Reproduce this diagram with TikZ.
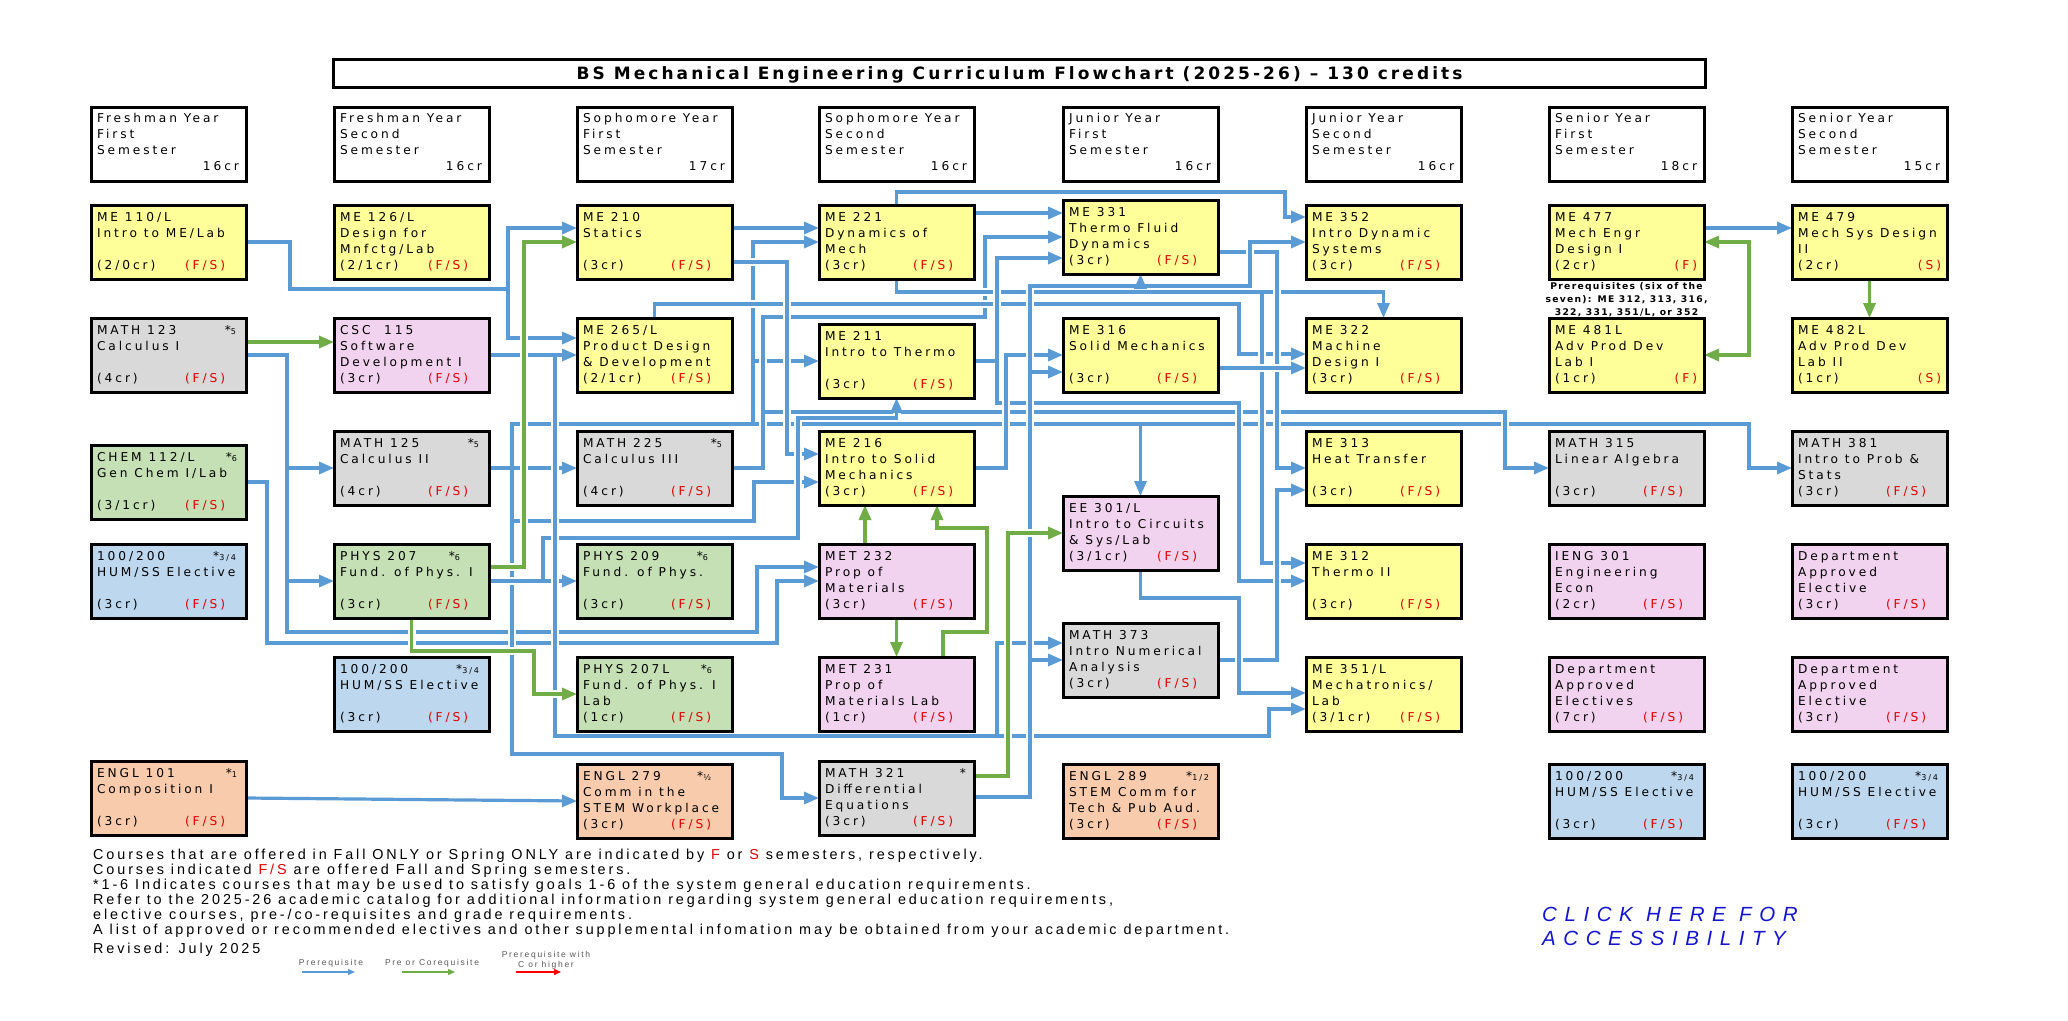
\documentclass[tikz,border=0pt]{standalone}
\usepackage{fontspec}
\usetikzlibrary{arrows.meta}
\newfontfamily\bxf[LetterSpace=24]{DejaVu Sans}
\newfontfamily\titlef[LetterSpace=18]{DejaVu Sans}
\newfontfamily\notef[LetterSpace=14]{DejaVu Sans}
\newfontfamily\ftf[LetterSpace=20]{Liberation Sans}
\newfontfamily\clickf[LetterSpace=37]{Liberation Sans}
\definecolor{fillY}{HTML}{FFFF99}
\definecolor{fillG}{HTML}{D9D9D9}
\definecolor{fillP}{HTML}{F2D3EF}
\definecolor{fillN}{HTML}{C5E0B4}
\definecolor{fillB}{HTML}{BDD7EE}
\definecolor{fillO}{HTML}{F8CBAD}
\definecolor{lnB}{HTML}{5B9BD5}
\definecolor{lnG}{HTML}{70AD47}
\definecolor{redT}{HTML}{E00000}
\definecolor{clickB}{HTML}{1414D2}
\pgfdeclarelayer{bg}
\pgfsetlayers{bg,main}
\tikzset{
 cbox/.style={draw=black, line width=3pt, minimum width=155pt, minimum height=74pt, inner sep=0pt, outer sep=0pt},
 ctxt/.style={anchor=base west, inner sep=0pt, outer sep=0pt, font={\bxf\fontsize{12.2}{14}\selectfont}},
 semtxt/.style={ctxt, text=redT},
 halo/.style={draw=white, line width=8pt},
 pq/.style={draw=lnB, line width=3.2pt, -{Triangle[length=15pt,width=12pt]}},
 cq/.style={draw=lnG, line width=3.2pt, -{Triangle[length=15pt,width=12pt]}},
 cqq/.style={draw=lnG, line width=3.2pt, {Triangle[length=15pt,width=12pt]}-{Triangle[length=15pt,width=12pt]}},
 ftxt/.style={anchor=base west, inner sep=0pt, font={\ftf\fontsize{14.4}{16}\selectfont}},
 notetxt/.style={anchor=base, inner sep=0pt, font={\notef\bfseries\fontsize{9.2}{11}\selectfont}},
 lgtxt/.style={anchor=base, inner sep=0pt, text=black!65, font={\ftf\fontsize{8.5}{9}\selectfont}},
}
% course box: name, left, top, fill, l1, l2, l3, credit line, semester
\newcommand\cb[9]{%
 \node[cbox,fill=#4] (#1) at (#2+77.5,#3+37) {};
 \node[ctxt] (#1-1) at (#2+6,#3+16) {#5};
 \node[ctxt] (#1-2) at (#2+6,#3+32) {#6};
 \node[ctxt] (#1-3) at (#2+6,#3+48) {#7};
 \node[ctxt] (#1-4) at (#2+6,#3+64) {#8};
 \node[semtxt] (#1-s) at (#2+94,#3+64) {#9};}
% header box: name, left, l1, l2, credits
\newcommand\hb[5]{%
 \node[cbox,fill=white] (#1) at (#2+77.5,144) {};
 \node[ctxt] (#1-1) at (#2+6,122) {#3};
 \node[ctxt] (#1-2) at (#2+6,138) {#4};
 \node[ctxt] (#1-3) at (#2+6,154) {Semester};
 \node[ctxt,anchor=base east] (#1-4) at (#2+148,170) {#5};}
\newcommand\cst[4]{\node[ctxt,anchor=base east] (#1-st) at (#2,#3) {#4};}
\newcommand\sm[1]{{\fontsize{8}{8}\selectfont #1}}
\newcommand\dbl[2]{#1{halo}#1{#2}}
% connectors
\newcommand\cnA[1]{%
 \draw[#1] (ME110.east) -- (290,242) -- (290,289) -- (508,289) -- (508,228) -- (ME210.west |- 0,228);
 \draw[#1] (ME110.east) -- (290,242) -- (290,289) -- (508,289) -- (508,338) -- (ME265.west |- 0,338);}
\newcommand\cnB[1]{%
 \draw[#1] (MATH123.east) -- (287,355) -- (287,468) -- (MATH125.west);
 \draw[#1] (MATH123.east) -- (287,355) -- (287,581) -- (PHYS207.west);
 \draw[#1] (MATH123.east) -- (287,355) -- (287,632) -- (757,632) -- (757,567) -- (MET232.west |- 0,567);}
\newcommand\cnC[1]{%
 \draw[#1] (CHEM112.east) -- (267,482) -- (267,643) -- (777,643) -- (777,581) -- (MET232.west);}
\newcommand\cnD[1]{%
 \draw[#1] (CSC115.east) -- (ME265.west);
 \draw[#1] (CSC115.east) -- (555,355) -- (555,736) -- (997,736) -- (997,643) -- (MATH373.west |- 0,643);
 \draw[#1] (CSC115.east) -- (555,355) -- (555,736) -- (1269,736) -- (1269,709) -- (ME351.west |- 0,709);}
\newcommand\cnE[1]{%
 \draw[#1] (MATH125.east) -- (MATH225.west);
 \draw[#1] (MATH125.east) -- (512,468) -- (512,424) -- (753,424) -- (753,242) -- (ME221.west |- 0,242);
 \draw[#1] (MATH125.east) -- (512,468) -- (512,424) -- (753,424) -- (753,361) -- (ME211.west);
 \draw[#1] (MATH125.east) -- (512,468) -- (512,424) -- (1140.5,424) -- (EE301.north);
 \draw[#1] (MATH125.east) -- (512,468) -- (512,424) -- (1749,424) -- (1749,468) -- (MATH381.west);
 \draw[#1] (MATH125.east) -- (512,468) -- (512,521) -- (754,521) -- (754,482) -- (ME216.west |- 0,482);
 \draw[#1] (MATH125.east) -- (512,468) -- (512,754) -- (782,754) -- (782,798) -- (MATH321.west);}
\newcommand\cnF[1]{%
 \draw[#1] (PHYS207.east) -- (PHYS209.west);
 \draw[#1] (PHYS207.east) -- (543,581) -- (543,538) -- (798,538) -- (798,418) -- (896.5,418) -- (ME211.south);}
\newcommand\cnG[1]{%
 \draw[#1] (ME210.east |- 0,228) -- (ME221.west |- 0,228);
 \draw[#1] (ME210.east |- 0,262) -- (787,262) -- (787,454) -- (ME216.west |- 0,454);}
\newcommand\cnH[1]{%
 \draw[#1] (ME265.north) -- (654.5,304) -- (1239,304) -- (1239,354) -- (ME322.west |- 0,354);}
\newcommand\cnI[1]{%
 \draw[#1] (MATH225.east) -- (763,468) -- (763,317) -- (985,317) -- (985,237) -- (ME331.west);
 \draw[#1] (MATH225.east) -- (763,468) -- (763,412) -- (1505,412) -- (1505,468) -- (MATH315.west);}
\newcommand\cnJ[1]{%
 \draw[#1] (ME221.north) -- (896.5,192) -- (1285,192) -- (1285,217) -- (ME352.west |- 0,217);
 \draw[#1] (ME221.east |- 0,213) -- (ME331.west |- 0,213);
 \draw[#1] (ME221.south) -- (896.5,292) -- (1383.5,292) -- (ME322.north);
 \draw[#1] (ME221.south) -- (896.5,292) -- (1262,292) -- (1262,563) -- (ME312.west |- 0,563);}
\newcommand\cnK[1]{%
 \draw[#1] (ME211.east) -- (997,361) -- (997,258) -- (ME331.west |- 0,258);
 \draw[#1] (ME211.east) -- (997,361) -- (997,403) -- (1239,403) -- (1239,581) -- (ME312.west);}
\newcommand\cnL[1]{%
 \draw[#1] (ME216.east) -- (1006,468) -- (1006,355) -- (ME316.west);}
\newcommand\cnM[1]{%
 \draw[#1] (MATH321.east |- 0,797) -- (1030,797) -- (1030,660) -- (MATH373.west);
 \draw[#1] (MATH321.east |- 0,797) -- (1030,797) -- (1030,372) -- (ME316.west |- 0,372);
 \draw[#1] (MATH321.east |- 0,797) -- (1030,797) -- (1030,286) -- (1140.5,286) -- (ME331.south);
 \draw[#1] (MATH321.east |- 0,797) -- (1030,797) -- (1030,286) -- (1250,286) -- (1250,242) -- (ME352.west);}
\newcommand\cnN[1]{%
 \draw[#1] (ME331.east |- 0,252) -- (1277,252) -- (1277,468) -- (ME313.west);}
\newcommand\cnO[1]{%
 \draw[#1] (ME316.east |- 0,368) -- (ME322.west |- 0,368);}
\newcommand\cnP[1]{%
 \draw[#1] (MATH373.east) -- (1277,660) -- (1277,490) -- (ME313.west |- 0,490);}
\newcommand\cnQ[1]{%
 \draw[#1] (EE301.south) -- (1140.5,598) -- (1239,598) -- (1239,693) -- (ME351.west |- 0,693);}
\newcommand\cnR[1]{%
 \draw[#1] (ENGL101.east) -- (ENGL279.west);}
\newcommand\cnS[1]{%
 \draw[#1] (ME477.east |- 0,228) -- (ME479.west |- 0,228);}
\newcommand\gnA[1]{%
 \draw[#1] (MATH123.east |- 0,342) -- (CSC115.west |- 0,342);}
\newcommand\gnB[1]{%
 \draw[#1] (PHYS207.east |- 0,567) -- (524,567) -- (524,242) -- (ME210.west |- 0,242);
 \draw[#1] (PHYS207.south) -- (411.5,651) -- (534,651) -- (534,694) -- (PHYS207L.west);}
\newcommand\gnC[1]{%
 \draw[#1] (MATH321.east |- 0,776) -- (1008,776) -- (1008,533) -- (EE301.west);}
\newcommand\gnD[1]{%
 \draw[#1] (MET232.north -| 865,0) -- (ME216.south -| 865,0);
 \draw[#1] (MET232.south) -- (MET231.north);
 \draw[#1] (MET231.north -| 943,0) -- (943,632) -- (987,632) -- (987,528) -- (937,528) -- (ME216.south -| 937,0);}
\newcommand\gnE[1]{%
 \draw[#1] (ME479.south) -- (ME482.north);}
\newcommand\gnF[1]{%
 \draw[#1] (ME477.east |- 0,242) -- (1749,242) -- (1749,355) -- (ME481.east);}
\begin{document}
\begin{tikzpicture}[x=1pt,y=-1pt]
\useasboundingbox (0,0) rectangle (2068,1020);
% title
\node[draw, line width=3pt, minimum width=1372pt, minimum height=28pt, inner sep=0pt] (titlebox) at (1019,73) {};
\node[anchor=base, inner sep=0pt, font={\titlef\bfseries\fontsize{17}{20}\selectfont}] (title) at (1019.5,79) {BS Mechanical Engineering Curriculum Flowchart (2025-26) – 130 credits};
% headers
\hb{hdr0}{91}{Freshman Year}{First}{16cr}
\hb{hdr1}{334}{Freshman Year}{Second}{16cr}
\hb{hdr2}{577}{Sophomore Year}{First}{17cr}
\hb{hdr3}{819}{Sophomore Year}{Second}{16cr}
\hb{hdr4}{1063}{Junior Year}{First}{16cr}
\hb{hdr5}{1306}{Junior Year}{Second}{16cr}
\hb{hdr6}{1549}{Senior Year}{First}{18cr}
\hb{hdr7}{1792}{Senior Year}{Second}{15cr}
% row A
\cb{ME110}{91}{205}{fillY}{ME 110/L}{Intro to ME/Lab}{}{(2/0cr)}{(F/S)}
\cb{ME126}{334}{205}{fillY}{ME 126/L}{Design for}{Mnfctg/Lab}{(2/1cr)}{(F/S)}
\cb{ME210}{577}{205}{fillY}{ME 210}{Statics}{}{(3cr)}{(F/S)}
\cb{ME221}{819}{205}{fillY}{ME 221}{Dynamics of}{Mech}{(3cr)}{(F/S)}
\cb{ME331}{1063}{200}{fillY}{ME 331}{Thermo Fluid}{Dynamics}{(3cr)}{(F/S)}
\cb{ME352}{1306}{205}{fillY}{ME 352}{Intro Dynamic}{Systems}{(3cr)}{(F/S)}
\cb{ME477}{1549}{205}{fillY}{ME 477}{Mech Engr}{Design I}{(2cr)}{}
\cb{ME479}{1792}{205}{fillY}{ME 479}{Mech Sys Design}{II}{(2cr)}{}
% row B
\cb{MATH123}{91}{318}{fillG}{MATH 123}{Calculus I}{}{(4cr)}{(F/S)}
\cb{CSC115}{334}{318}{fillP}{CSC\ \ 115}{Software}{Development I}{(3cr)}{(F/S)}
\cb{ME265}{577}{318}{fillY}{ME 265/L}{Product Design}{\& Development}{(2/1cr)}{(F/S)}
\cb{ME211}{819}{324}{fillY}{ME 211}{Intro to Thermo}{}{(3cr)}{(F/S)}
\cb{ME316}{1063}{318}{fillY}{ME 316}{Solid Mechanics}{}{(3cr)}{(F/S)}
\cb{ME322}{1306}{318}{fillY}{ME 322}{Machine}{Design I}{(3cr)}{(F/S)}
\cb{ME481}{1549}{318}{fillY}{ME 481L}{Adv Prod Dev}{Lab I}{(1cr)}{}
\cb{ME482}{1792}{318}{fillY}{ME 482L}{Adv Prod Dev}{Lab II}{(1cr)}{}
% row C
\cb{CHEM112}{91}{445}{fillN}{CHEM 112/L}{Gen Chem I/Lab}{}{(3/1cr)}{(F/S)}
\cb{MATH125}{334}{431}{fillG}{MATH 125}{Calculus II}{}{(4cr)}{(F/S)}
\cb{MATH225}{577}{431}{fillG}{MATH 225}{Calculus III}{}{(4cr)}{(F/S)}
\cb{ME216}{819}{431}{fillY}{ME 216}{Intro to Solid}{Mechanics}{(3cr)}{(F/S)}
\cb{ME313}{1306}{431}{fillY}{ME 313}{Heat Transfer}{}{(3cr)}{(F/S)}
\cb{MATH315}{1549}{431}{fillG}{MATH 315}{Linear Algebra}{}{(3cr)}{(F/S)}
\cb{MATH381}{1792}{431}{fillG}{MATH 381}{Intro to Prob \&}{Stats}{(3cr)}{(F/S)}
% row D
\cb{HUM0}{91}{544}{fillB}{100/200}{HUM/SS Elective}{}{(3cr)}{(F/S)}
\cb{PHYS207}{334}{544}{fillN}{PHYS 207}{Fund. of Phys. I}{}{(3cr)}{(F/S)}
\cb{PHYS209}{577}{544}{fillN}{PHYS 209}{Fund. of Phys.}{}{(3cr)}{(F/S)}
\cb{MET232}{819}{544}{fillP}{MET 232}{Prop of}{Materials}{(3cr)}{(F/S)}
\cb{EE301}{1063}{496}{fillP}{EE 301/L}{Intro to Circuits}{\& Sys/Lab}{(3/1cr)}{(F/S)}
\cb{ME312}{1306}{544}{fillY}{ME 312}{Thermo II}{}{(3cr)}{(F/S)}
\cb{IENG301}{1549}{544}{fillP}{IENG 301}{Engineering}{Econ}{(2cr)}{(F/S)}
\cb{DEP7a}{1792}{544}{fillP}{Department}{Approved}{Elective}{(3cr)}{(F/S)}
% row E
\cb{HUM1}{334}{657}{fillB}{100/200}{HUM/SS Elective}{}{(3cr)}{(F/S)}
\cb{PHYS207L}{577}{657}{fillN}{PHYS 207L}{Fund. of Phys. I}{Lab}{(1cr)}{(F/S)}
\cb{MET231}{819}{657}{fillP}{MET 231}{Prop of}{Materials Lab}{(1cr)}{(F/S)}
\cb{MATH373}{1063}{623}{fillG}{MATH 373}{Intro Numerical}{Analysis}{(3cr)}{(F/S)}
\cb{ME351}{1306}{657}{fillY}{ME 351/L}{Mechatronics/}{Lab}{(3/1cr)}{(F/S)}
\cb{DEP6}{1549}{657}{fillP}{Department}{Approved}{Electives}{(7cr)}{(F/S)}
\cb{DEP7b}{1792}{657}{fillP}{Department}{Approved}{Elective}{(3cr)}{(F/S)}
% row F
\cb{ENGL101}{91}{761}{fillO}{ENGL 101}{Composition I}{}{(3cr)}{(F/S)}
\cb{ENGL279}{577}{764}{fillO}{ENGL 279}{Comm in the}{STEM Workplace}{(3cr)}{(F/S)}
\cb{MATH321}{819}{761}{fillG}{MATH 321}{Differential}{Equations}{(3cr)}{(F/S)}
\cb{ENGL289}{1063}{764}{fillO}{ENGL 289}{STEM Comm for}{Tech \& Pub Aud.}{(3cr)}{(F/S)}
\cb{HUM6}{1549}{764}{fillB}{100/200}{HUM/SS Elective}{}{(3cr)}{(F/S)}
\cb{HUM7}{1792}{764}{fillB}{100/200}{HUM/SS Elective}{}{(3cr)}{(F/S)}
% right-aligned semesters
\node[semtxt,anchor=base east] (ME477-r) at (1697,269) {(F)};
\node[semtxt,anchor=base east] (ME479-r) at (1941,269) {(S)};
\node[semtxt,anchor=base east] (ME481-r) at (1697,382) {(F)};
\node[semtxt,anchor=base east] (ME482-r) at (1941,382) {(S)};
% stars
\cst{MATH123}{236}{334}{*\sm{5}}
\cst{CHEM112}{237}{461}{*\sm{6}}
\cst{MATH125}{479}{447}{*\sm{5}}
\cst{MATH225}{722}{447}{*\sm{5}}
\cst{HUM0}{236}{560}{*\sm{3/4}}
\cst{PHYS207}{460}{560}{*\sm{6}}
\cst{PHYS209}{708}{560}{*\sm{6}}
\cst{HUM1}{479}{673}{*\sm{3/4}}
\cst{PHYS207L}{712}{673}{*\sm{6}}
\cst{ENGL101}{237}{777}{*\sm{1}}
\cst{ENGL279}{711}{780}{*\sm{½}}
\cst{MATH321}{966}{777}{*}
\cst{ENGL289}{1209}{780}{*\sm{1/2}}
\cst{HUM6}{1694}{780}{*\sm{3/4}}
\cst{HUM7}{1938}{780}{*\sm{3/4}}
% prerequisite note
\node[notetxt] (pn1) at (1626.5,289) {Prerequisites (six of the};
\node[notetxt] (pn2) at (1626.5,302) {seven): ME 312, 313, 316,};
\node[notetxt] (pn3) at (1626.5,315) {322, 331, 351/L, or 352};
% footer
\node[ftxt] (ft1) at (93,859) {Courses that are offered in Fall ONLY or Spring ONLY are indicated by {\color{redT}F} or {\color{redT}S} semesters, respectively.};
\node[ftxt] (ft2) at (93,874) {Courses indicated {\color{redT}F/S} are offered Fall and Spring semesters.};
\node[ftxt] (ft3) at (93,889) {*1-6 Indicates courses that may be used to satisfy goals 1-6 of the system general education requirements.};
\node[ftxt] (ft4) at (93,904) {Refer to the 2025-26 academic catalog for additional information regarding system general education requirements,};
\node[ftxt] (ft5) at (93,919) {elective courses, pre-/co-requisites and grade requirements.};
\node[ftxt] (ft6) at (93,934) {A list of approved or recommended electives and other supplemental infomation may be obtained from your academic department.};
\node[ftxt] (ft7) at (93,953) {Revised: July 2025};
% accessibility
\node[anchor=base west, inner sep=0pt, text=clickB, font={\clickf\itshape\fontsize{20.5}{24}\selectfont}] (click1) at (1542,921) {CLICK HERE FOR};
\node[anchor=base west, inner sep=0pt, text=clickB, font={\clickf\itshape\fontsize{20.5}{24}\selectfont}] (click2) at (1542,945) {ACCESSIBILITY};
% legend
\node[lgtxt] (lg1) at (331,965) {Prerequisite};
\node[lgtxt] (lg2) at (432,965) {Pre or Corequisite};
\node[lgtxt] (lg3) at (546,957) {Prerequisite with};
\node[lgtxt] (lg4) at (546,967) {C or higher};
\coordinate (la1) at (302,972); \coordinate (la2) at (355,972);
\coordinate (lb1) at (402,972); \coordinate (lb2) at (455,972);
\coordinate (lc1) at (516,972); \coordinate (lc2) at (561,972);
\draw[draw=lnB, line width=1.3pt, -{Triangle[length=7pt,width=6pt]}] (la1) -- (la2);
\draw[draw=lnG, line width=1.3pt, -{Triangle[length=7pt,width=6pt]}] (lb1) -- (lb2);
\draw[draw=red, line width=1.3pt, -{Triangle[length=7pt,width=6pt]}] (lc1) -- (lc2);
% connectors on background layer
\begin{pgfonlayer}{bg}
\fill[white] (0,0) rectangle (2068,1020);
\dbl\cnR{pq}
\dbl\cnC{pq}
\dbl\cnB{pq}
\dbl\cnE{pq}
\dbl\cnI{pq}
\dbl\cnA{pq}
\dbl\cnH{pq}
\dbl\cnJ{pq}
\dbl\cnK{pq}
\dbl\cnN{pq}
\dbl\cnG{pq}
\dbl\cnL{pq}
\dbl\cnF{pq}
\dbl\cnO{pq}
\dbl\cnP{pq}
\dbl\cnQ{pq}
\dbl\cnD{pq}
\dbl\cnM{pq}
\dbl\cnS{pq}
\dbl\gnA{cq}
\dbl\gnB{cq}
\dbl\gnC{cq}
\dbl\gnD{cq}
\dbl\gnE{cq}
\dbl\gnF{cqq}
\end{pgfonlayer}
\end{tikzpicture}
\end{document}
